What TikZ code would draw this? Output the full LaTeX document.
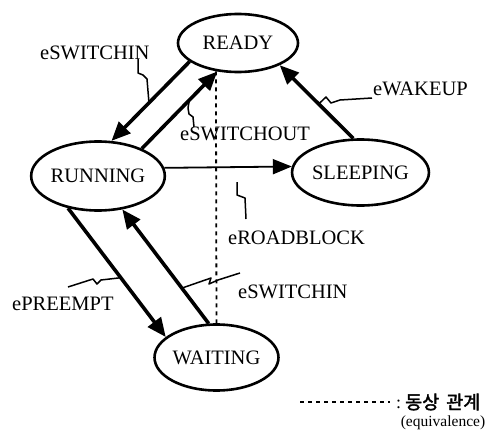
\documentclass[tikz,border=0pt]{standalone}
\usepackage{fontspec}
\setmainfont{Liberation Serif}
\newfontfamily\krfont[FakeBold=2]{Noto Sans CJK KR}
\usetikzlibrary{arrows.meta,shapes.geometric}
\begin{document}
\begin{tikzpicture}[x=1pt,y=-1pt,
  state/.style={draw, ellipse, line width=2.6pt, inner sep=0pt,
    font=\fontsize{20.5}{24}\selectfont},
  bigarrow/.style={line width=3.6pt, -{Triangle[length=19pt,width=16pt]}},
  thinarrow/.style={line width=1.8pt, -{Triangle[length=19pt,width=15pt]}},
  equiv/.style={line width=1.8pt, dash pattern=on 4pt off 4pt},
  squiggle/.style={line width=1.5pt, line join=round},
  lbl/.style={inner sep=0pt, anchor=west, font=\fontsize{20.5}{24}\selectfont}]
\useasboundingbox (0,0) rectangle (499,439);

% states
\node[state, minimum width=120pt, minimum height=58pt] (ready) at (238,43) {READY};
\node[state, minimum width=117pt, minimum height=69pt] (running) at (98,176) {RUNNING};
\node[state, minimum width=112pt, minimum height=66pt] (sleeping) at (360.5,172.5) {SLEEPING};
\node[state, minimum width=116pt, minimum height=66pt] (waiting) at (216.5,357.5) {WAITING};

% equivalence (dotted) line
\draw[equiv] (ready.232) -- (waiting.north);

% transitions
\draw[bigarrow] (ready.201) -- coordinate[pos=0.52] (p1) (running.69);
\draw[bigarrow] (running.32.5) -- coordinate[pos=0.63] (p2) (ready.234);
\draw[thinarrow] (running.7.6) -- (sleeping.175.5);
\draw[bigarrow] (sleeping.102) -- coordinate[pos=0.47] (p4) (ready.332);
\draw[bigarrow] (running.227) -- coordinate[pos=0.54] (p5) (waiting.158.5);
\draw[bigarrow] (waiting.103.5) -- coordinate[pos=0.31] (p6) (running.306);

% labels
\node[lbl] (l1) at (40,53) {eSWITCHIN};
\node[lbl] (l2) at (180,134) {eSWITCHOUT};
\node[lbl] (l3) at (228,238) {eROADBLOCK};
\node[lbl] (l4) at (373,89) {eWAKEUP};
\node[lbl] (l5) at (12,304) {ePREEMPT};
\node[lbl] (l6) at (238,292) {eSWITCHIN};

% leader squiggles
\coordinate (s1) at (138,59);
\draw[squiggle] (s1) -- (138,73) -- (143,75) -- (147,79) -- (p1);
\coordinate (s2) at (194,127);
\draw[squiggle] (s2) -- (193,117) -- (189,114) -- (188,108) -- (p2);
\coordinate (s3a) at (237,182);
\coordinate (s3b) at (246,219);
\draw[squiggle] (s3a) -- (237,195) -- (245,198) -- (s3b);
\coordinate (s4) at (372,98);
\draw[squiggle] (p4) -- (326,97) -- (331,103) -- (340,100) -- (s4);
\coordinate (s5) at (68,287);
\draw[squiggle] (s5) -- (93,279) -- (97,284) -- (101,280) -- (p5);
\coordinate (s6) at (240,273);
\draw[squiggle] (p6) -- (211,278) -- (209,284) -- (218,280) -- (s6);

% legend
\coordinate (legA) at (300,402);
\node[inner sep=0pt, anchor=west] (legtext) at (396,402)
  {\fontsize{18}{21}\selectfont :\hspace{4pt}{\krfont\fontsize{18.5}{21}\selectfont 동상\hspace{7pt}관계}};
\draw[equiv, shorten >=6pt] (legA) -- (legtext.west);
\node[inner sep=0pt, font=\fontsize{15.5}{18}\selectfont] (legsub) at (443,423) {(equivalence)};
\end{tikzpicture}
\end{document}
